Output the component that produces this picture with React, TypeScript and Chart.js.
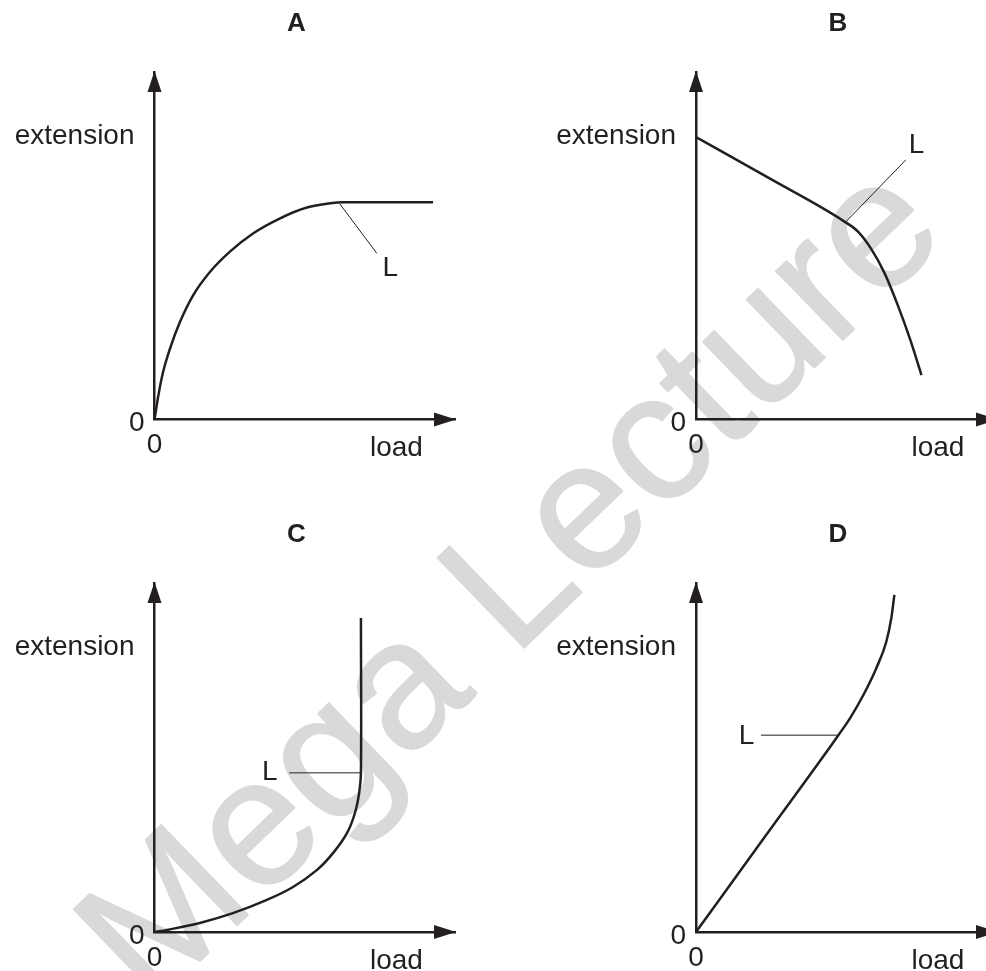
import React, { useEffect, useRef } from "react";
import { Chart, registerables } from "chart.js";

Chart.register(...registerables);

const FONT = "'Liberation Sans', Arial, Helvetica, sans-serif";
const INK = "#231f20";
const WATERMARK_COLOR = "#d9d9d9";

// ---- text ----
const panelTitles = ["A", "B", "C", "D"];
const xAxisLabel = "load";
const yAxisLabel = "extension";
const limitLabel = "L";
const zeroTick = "0";
const watermarkText = "Mega Lecture";

// ---- axis ranges (arbitrary units, arrow tip = 10) ----
const axisMin = 0;
const axisMax = 10;

// ---- panel A : extension vs load ----
const loadA = [0, 0.13, 0.29, 0.52, 0.85, 1.29, 1.85, 2.51, 3.29, 4.18, 5.07, 5.84, 6.28, 9.27];
const extensionA = [0, 0.7, 1.38, 2.05, 2.81, 3.58, 4.25, 4.83, 5.36, 5.79, 6.1, 6.22, 6.25, 6.25];
const leaderLoadA = [6.17, 7.4];
const leaderExtensionA = [6.2, 4.78];

// ---- panel B ----
const loadB = [0, 2.46, 4.96, 5.39, 5.82, 6.26, 6.69, 7.12, 7.49];
const extensionB = [8.13, 6.93, 5.68, 5.4, 4.91, 4.22, 3.32, 2.29, 1.28];
const leaderLoadB = [4.98, 6.97];
const leaderExtensionB = [5.69, 7.47];

// ---- panel C ----
const loadC = [0, 0.42, 1.51, 2.61, 3.74, 4.61, 5.41, 5.94, 6.41, 6.67, 6.81, 6.87, 6.87];
const extensionC = [0, 0.06, 0.26, 0.54, 0.92, 1.29, 1.78, 2.26, 2.84, 3.41, 3.98, 4.56, 9.0];
const leaderLoadC = [4.48, 6.84];
const leaderExtensionC = [4.56, 4.56];

// ---- panel D ----
const loadD = [0, 2.33, 4.73, 5.12, 5.56, 5.99, 6.32, 6.49, 6.59];
const extensionD = [0, 2.78, 5.64, 6.13, 6.79, 7.56, 8.31, 9.0, 9.66];
const leaderLoadD = [2.16, 4.73];
const leaderExtensionD = [5.64, 5.64];

// ---- position of the "L" label in each panel (data units) ----
const limitLabelLoad = [7.85, 7.33, 3.84, 1.68];
const limitLabelExtension = [4.36, 7.88, 4.57, 5.6];

// ---- layout (pixels) ----
const Y_SCALE_W = 40;
const X_SCALE_H = 36;
const PANELS = [
  { left: 0, top: 0, width: 493, height: 485, pad: { left: 154.5 - Y_SCALE_W, top: 72, right: 38, bottom: 65.5 - X_SCALE_H }, curveMode: "monotone" },
  { left: 493, top: 0, width: 520, height: 485, pad: { left: 203 - Y_SCALE_W, top: 72, right: 16, bottom: 65.5 - X_SCALE_H }, curveMode: "monotone" },
  { left: 0, top: 485, width: 493, height: 486, pad: { left: 154.5 - Y_SCALE_W, top: 98, right: 38, bottom: 39 - X_SCALE_H }, curveMode: "bezier" },
  { left: 493, top: 485, width: 520, height: 486, pad: { left: 203 - Y_SCALE_W, top: 98, right: 16, bottom: 39 - X_SCALE_H }, curveMode: "monotone" },
];

const curves = [
  [loadA, extensionA],
  [loadB, extensionB],
  [loadC, extensionC],
  [loadD, extensionD],
];
const leaders = [
  [leaderLoadA, leaderExtensionA],
  [leaderLoadB, leaderExtensionB],
  [leaderLoadC, leaderExtensionC],
  [leaderLoadD, leaderExtensionD],
];

const WATERMARK = { x: 149.7, y: 1009.7, size: 182, angle: -44, weight: 1.5 };

const toPoints = (xs: number[], ys: number[]) => xs.map((x, i) => ({ x, y: ys[i] }));

function makePlugin(i: number) {
  const p = PANELS[i];
  return {
    id: "panelDecor" + i,
    beforeDraw(chart: any) {
      const ctx = chart.ctx;
      ctx.save();
      ctx.translate(-p.left, -p.top);
      ctx.translate(WATERMARK.x, WATERMARK.y);
      ctx.rotate((WATERMARK.angle * Math.PI) / 180);
      ctx.font = `${WATERMARK.size}px ${FONT}`;
      ctx.fillStyle = WATERMARK_COLOR;
      ctx.strokeStyle = WATERMARK_COLOR;
      ctx.lineWidth = WATERMARK.weight;
      ctx.lineJoin = "round";
      ctx.textAlign = "left";
      ctx.textBaseline = "alphabetic";
      ctx.fillText(watermarkText, 0, 0);
      ctx.strokeText(watermarkText, 0, 0);
      ctx.restore();
    },
    afterDraw(chart: any) {
      const { ctx, chartArea: a, scales } = chart;
      ctx.save();
      ctx.fillStyle = INK;
      // y arrow
      ctx.beginPath();
      ctx.moveTo(a.left, a.top - 1);
      ctx.lineTo(a.left - 7, a.top + 20);
      ctx.lineTo(a.left + 7, a.top + 20);
      ctx.closePath();
      ctx.fill();
      // x arrow
      ctx.beginPath();
      ctx.moveTo(a.right + 1, a.bottom);
      ctx.lineTo(a.right - 21, a.bottom - 7);
      ctx.lineTo(a.right - 21, a.bottom + 7);
      ctx.closePath();
      ctx.fill();
      // title
      ctx.font = `bold 26px ${FONT}`;
      ctx.textAlign = "center";
      ctx.textBaseline = "alphabetic";
      ctx.fillText(panelTitles[i], a.left + 142, a.top - 41);
      // axis labels
      ctx.font = `28px ${FONT}`;
      ctx.textAlign = "right";
      ctx.fillText(yAxisLabel, a.left - 20, a.top + 72);
      ctx.textAlign = "left";
      ctx.fillText(xAxisLabel, a.left + 215.5, a.bottom + 36.5);
      // limit label
      ctx.textAlign = "center";
      ctx.textBaseline = "middle";
      ctx.fillText(
        limitLabel,
        scales.x.getPixelForValue(limitLabelLoad[i]),
        scales.y.getPixelForValue(limitLabelExtension[i])
      );
      ctx.restore();
    },
  };
}

function makeConfig(i: number): any {
  const p = PANELS[i];
  const [xs, ys] = curves[i];
  const [lx, ly] = leaders[i];
  const tickFont = { family: FONT, size: 28 };
  return {
    type: "scatter",
    data: {
      datasets: [
        {
          data: toPoints(xs, ys),
          showLine: true,
          borderColor: INK,
          borderWidth: 2.5,
          pointRadius: 0,
          fill: false,
          cubicInterpolationMode: p.curveMode === "monotone" ? "monotone" : "default",
          tension: p.curveMode === "monotone" ? 0 : 0.35,
        },
        {
          data: toPoints(lx, ly),
          showLine: true,
          borderColor: INK,
          borderWidth: 1,
          pointRadius: 0,
          fill: false,
          tension: 0,
        },
      ],
    },
    options: {
      animation: false,
      responsive: false,
      devicePixelRatio: 1,
      layout: { padding: p.pad },
      plugins: { legend: { display: false }, tooltip: { enabled: false }, title: { display: false } },
      events: [],
      scales: {
        x: {
          type: "linear",
          position: "bottom",
          min: axisMin,
          max: axisMax,
          grid: { display: false, drawTicks: false },
          border: { display: true, color: INK, width: 2.5 },
          ticks: { color: INK, font: tickFont, padding: 9, maxRotation: 0, autoSkip: false, callback: () => zeroTick },
          afterBuildTicks: (s: any) => {
            s.ticks = [{ value: 0 }];
          },
          afterFit: (s: any) => {
            s.height = X_SCALE_H;
          },
        },
        y: {
          type: "linear",
          position: "left",
          min: axisMin,
          max: axisMax,
          grid: { display: false, drawTicks: false },
          border: { display: true, color: INK, width: 2.5 },
          ticks: { color: INK, font: tickFont, padding: 10, labelOffset: 4, autoSkip: false, callback: () => zeroTick },
          afterBuildTicks: (s: any) => {
            s.ticks = [{ value: 0 }];
          },
          afterFit: (s: any) => {
            s.width = Y_SCALE_W;
          },
        },
      },
    },
    plugins: [makePlugin(i)],
  };
}

export default function App() {
  const refs = useRef<(HTMLCanvasElement | null)[]>([]);
  useEffect(() => {
    const charts = PANELS.map((_, i) => new Chart(refs.current[i] as HTMLCanvasElement, makeConfig(i)));
    return () => charts.forEach((c) => c.destroy());
  }, []);
  return (
    <div
      style={{
        position: "absolute",
        left: 0,
        top: 0,
        width: 986,
        height: 971,
        overflow: "hidden",
        background: "#ffffff",
      }}
    >
      {PANELS.map((p, i) => (
        <canvas
          key={i}
          ref={(el) => {
            refs.current[i] = el;
          }}
          width={p.width}
          height={p.height}
          style={{ position: "absolute", left: p.left, top: p.top, width: p.width, height: p.height }}
        />
      ))}
    </div>
  );
}
